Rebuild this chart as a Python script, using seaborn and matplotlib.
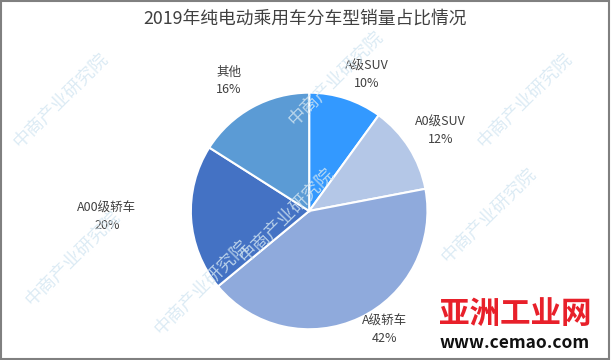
import numpy as np
import matplotlib
matplotlib.use('Agg')
import matplotlib.pyplot as plt
import seaborn as sns

TITLE = '2019年纯电动乘用车分车型销量占比情况'
categories = ['A级SUV', 'A0级SUV', 'A级轿车', 'A00级轿车', '其他']
shares = [10, 12, 42, 20, 16]  # [%]
colors = ['#3399FF', '#B4C7E7', '#8FAADC', '#4472C4', '#5B9BD5']
label_dist = [1.25, 1.30, 1.19, 1.71, 1.29]
label_shift = [-5, -1, 7, -2, 3]  # degrees

sns.set_theme(style='white')
plt.rcParams['font.family'] = ['Noto Sans CJK SC', 'DejaVu Sans']

fig = plt.figure(figsize=(6.11, 3.6), dpi=100)
fig.patch.set_facecolor('white')

# watermark
for wx, wy in [(0.10, 0.72), (0.55, 0.78), (0.86, 0.72), (0.12, 0.28), (0.47, 0.40),
               (0.80, 0.40), (0.33, 0.20)]:
    fig.text(wx, wy, '中商产业研究院', rotation=45, fontsize=13, color='#D3E6F2',
             ha='center', va='center', alpha=0.8, zorder=0)

ax = fig.add_axes([0.264, 0.003, 0.484, 0.822])
wedges, _ = ax.pie(shares, colors=colors, startangle=90, counterclock=False,
                   wedgeprops=dict(edgecolor='white', linewidth=1.5))
ax.set_xlim(-1.25, 1.25)
ax.set_ylim(-1.25, 1.25)
ax.set_aspect('equal')

for w, name, pct, d, s in zip(wedges, categories, shares, label_dist, label_shift):
    ang = np.deg2rad((w.theta1 + w.theta2) / 2 + s)
    ax.text(d * np.cos(ang), d * np.sin(ang), f'{name}\n{pct}%', ha='center', va='center',
            fontsize=9, color='#404040', linespacing=1.4)

fig.text(0.5, 0.948, TITLE, ha='center', va='center', fontsize=12.8, color='#404040')

# logo
fig.text(0.843, 0.128, '亚洲工业网', ha='center', va='center', fontsize=22, color='#E8202A',
         fontweight='heavy')
fig.text(0.843, 0.047, 'www.cemao.com', ha='center', va='center', fontsize=12.5, color='#111111',
         fontweight='bold')

# outer frame
fig.add_artist(plt.Rectangle((0.002, 0.004), 0.995, 0.992, transform=fig.transFigure,
                             fill=False, edgecolor='#808080', linewidth=1.5))

fig.savefig('out.png', dpi=100)
